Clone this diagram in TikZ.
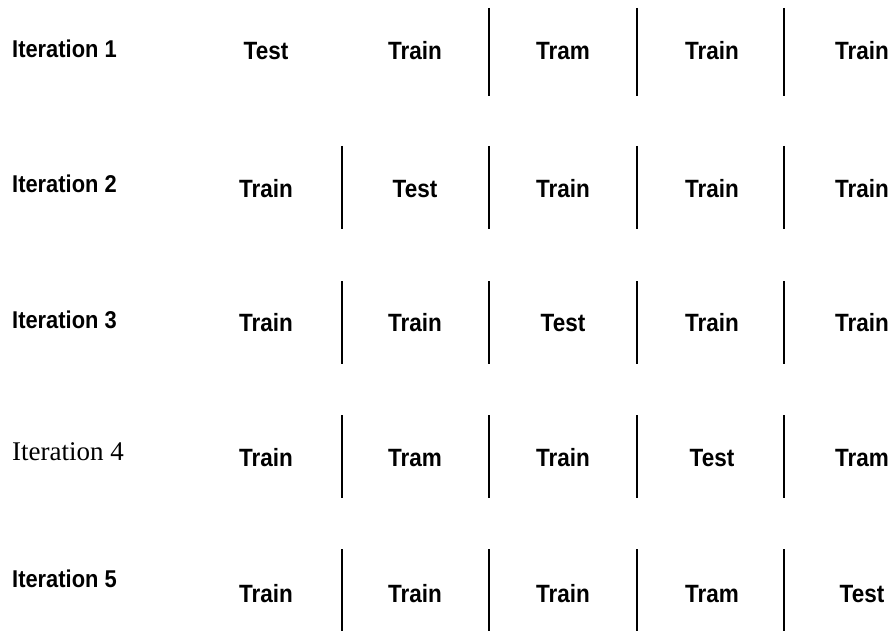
\documentclass[tikz,border=0pt]{standalone}
\usepackage{fontspec}
\newfontfamily\cellfont[FakeStretch=0.9]{Liberation Sans}
\newfontfamily\plainfont{Liberation Serif}
\usetikzlibrary{positioning}

\begin{document}
\begin{tikzpicture}[
    x=1pt, y=-1pt,
    cell/.style={anchor=base, inner sep=0pt, font=\cellfont\bfseries\fontsize{25}{29}\selectfont},
    iter/.style={anchor=base west, inner sep=0pt, font=\cellfont\bfseries\fontsize{24.3}{28}\selectfont},
    divider/.style={line width=1.6pt}
]
\useasboundingbox (0,0) rectangle (893,631);

% Row labels
\node[iter] (it1) at (12,58) {Iteration 1};
\node[iter] (it2) at (12,192) {Iteration 2};
\node[iter] (it3) at (12,328) {Iteration 3};
\node[iter, font=\plainfont\fontsize{27}{31}\selectfont] (it4) at (12,460) {Iteration 4};
\node[iter] (it5) at (12,587) {Iteration 5};

% Folds, row by row
\foreach \x/\t [count=\i] in {266/Test, 415/Train, 563/Tram, 712/Train, 862/Train}
    \node[cell] (a\i) at (\x,60) {\t};
\foreach \x/\t [count=\i] in {266/Train, 415/Test, 563/Train, 712/Train, 862/Train}
    \node[cell] (b\i) at (\x,197) {\t};
\foreach \x/\t [count=\i] in {266/Train, 415/Train, 563/Test, 712/Train, 862/Train}
    \node[cell] (c\i) at (\x,331) {\t};
\foreach \x/\t [count=\i] in {266/Train, 415/Tram, 563/Train, 712/Test, 862/Tram}
    \node[cell] (d\i) at (\x,466) {\t};
\foreach \x/\t [count=\i] in {266/Train, 415/Train, 563/Train, 712/Tram, 862/Test}
    \node[cell] (e\i) at (\x,602) {\t};

% Dividers
\foreach \x in {489,637,784}
    \draw[divider] (\x,8) -- (\x,96);
\foreach \x in {342,489,637,784} {
    \draw[divider] (\x,146) -- (\x,229);
    \draw[divider] (\x,281) -- (\x,364);
    \draw[divider] (\x,415) -- (\x,498);
    \draw[divider] (\x,549) -- (\x,631);
}
\end{tikzpicture}
\end{document}
